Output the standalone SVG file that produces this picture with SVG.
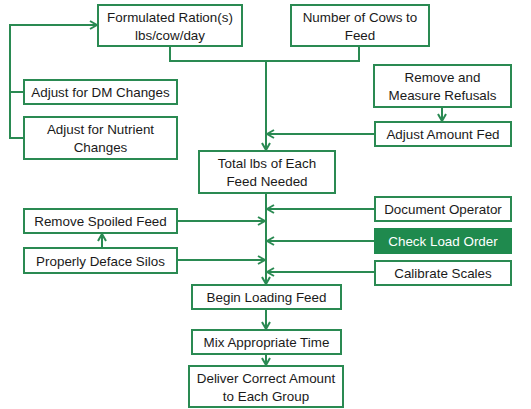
<svg xmlns="http://www.w3.org/2000/svg" width="531" height="409" viewBox="0 0 531 409">
  <defs>
    <style>
      .box { fill: #ffffff; stroke: #2a8a52; stroke-width: 2; }
      .box.hi { fill: #1f8a4e; stroke: #1f8a4e; }
      text { font-family: "Liberation Sans", Arial, sans-serif; font-size: 13.4px; fill: #1a1a1a; text-anchor: middle; }
      .hi-t { fill: #ffffff; }
      .link { fill: none; stroke: #2a8a52; stroke-width: 2; }
    </style>
    <marker id="arr" viewBox="0 0 10 10" refX="9" refY="5" markerWidth="10" markerHeight="10" markerUnits="userSpaceOnUse" orient="auto">
      <polyline points="2,1 9,5 2,9" fill="none" stroke="#2a8a52" stroke-width="2"/>
    </marker>
  </defs>
  <rect width="531" height="409" fill="#ffffff"/>

  <!-- connectors -->
  <g id="connectors">
    <polyline class="link" points="170,46 170,61 266,61"/>
    <polyline class="link" points="359,46 359,61 266,61"/>
    <line class="link" x1="266" y1="61" x2="266" y2="150" marker-end="url(#arr)"/>
    <polyline class="link" points="24,92 10,92 10,25 97,25" marker-end="url(#arr)"/>
    <polyline class="link" points="24,138 10,138 10,92"/>
    <line class="link" x1="442" y1="107" x2="442" y2="121" marker-end="url(#arr)"/>
    <line class="link" x1="375" y1="134" x2="267" y2="134" marker-end="url(#arr)"/>
    <line class="link" x1="266" y1="193" x2="266" y2="284" marker-end="url(#arr)"/>
    <line class="link" x1="177" y1="221" x2="265" y2="221" marker-end="url(#arr)"/>
    <line class="link" x1="177" y1="260" x2="265" y2="260" marker-end="url(#arr)"/>
    <line class="link" x1="102" y1="248" x2="102" y2="234" marker-end="url(#arr)"/>
    <line class="link" x1="375" y1="209" x2="267" y2="209" marker-end="url(#arr)"/>
    <line class="link" x1="375" y1="241" x2="267" y2="241" marker-end="url(#arr)"/>
    <line class="link" x1="375" y1="272" x2="267" y2="272" marker-end="url(#arr)"/>
    <line class="link" x1="266" y1="309" x2="266" y2="329" marker-end="url(#arr)"/>
    <line class="link" x1="266" y1="354" x2="266" y2="365" marker-end="url(#arr)"/>
  </g>

  <g id="formulated-ration">
    <rect class="box" x="98" y="5" width="144" height="41"/>
    <text x="170" y="21.5">Formulated Ration(s)</text>
    <text x="170" y="39.5">lbs/cow/day</text>
  </g>
  <g id="number-of-cows">
    <rect class="box" x="291" y="5" width="138" height="41"/>
    <text x="360" y="21.5">Number of Cows to</text>
    <text x="360" y="39.5">Feed</text>
  </g>
  <g id="adjust-dm">
    <rect class="box" x="24" y="80" width="153" height="24"/>
    <text x="100.5" y="97">Adjust for DM Changes</text>
  </g>
  <g id="adjust-nutrient">
    <rect class="box" x="24" y="117" width="153" height="42"/>
    <text x="100.5" y="134">Adjust for Nutrient</text>
    <text x="100.5" y="152">Changes</text>
  </g>
  <g id="remove-refusals">
    <rect class="box" x="374" y="65" width="137" height="42"/>
    <text x="442.5" y="82">Remove and</text>
    <text x="442.5" y="100">Measure Refusals</text>
  </g>
  <g id="adjust-amount">
    <rect class="box" x="375" y="122" width="136" height="24"/>
    <text x="443" y="139">Adjust Amount Fed</text>
  </g>
  <g id="total-lbs">
    <rect class="box" x="199" y="151" width="136" height="42"/>
    <text x="267" y="168">Total lbs of Each</text>
    <text x="267" y="186">Feed Needed</text>
  </g>
  <g id="remove-spoiled">
    <rect class="box" x="24" y="209" width="153" height="24"/>
    <text x="100.5" y="226">Remove Spoiled Feed</text>
  </g>
  <g id="deface-silos">
    <rect class="box" x="24" y="248" width="153" height="25"/>
    <text x="100.5" y="265.5">Properly Deface Silos</text>
  </g>
  <g id="document-operator">
    <rect class="box" x="375" y="197" width="136" height="24"/>
    <text x="443" y="214">Document Operator</text>
  </g>
  <g id="check-load-order">
    <rect class="box hi" x="375" y="229" width="136" height="24"/>
    <text class="hi-t" x="443" y="246">Check Load Order</text>
  </g>
  <g id="calibrate-scales">
    <rect class="box" x="375" y="261" width="136" height="24"/>
    <text x="443" y="278">Calibrate Scales</text>
  </g>
  <g id="begin-loading">
    <rect class="box" x="192" y="285" width="149" height="24"/>
    <text x="266.5" y="302">Begin Loading Feed</text>
  </g>
  <g id="mix-time">
    <rect class="box" x="192" y="330" width="149" height="24"/>
    <text x="266.5" y="347">Mix Appropriate Time</text>
  </g>
  <g id="deliver">
    <rect class="box" x="189" y="366" width="154" height="41"/>
    <text x="266" y="382.5">Deliver Correct Amount</text>
    <text x="266" y="400.5">to Each Group</text>
  </g>
</svg>
